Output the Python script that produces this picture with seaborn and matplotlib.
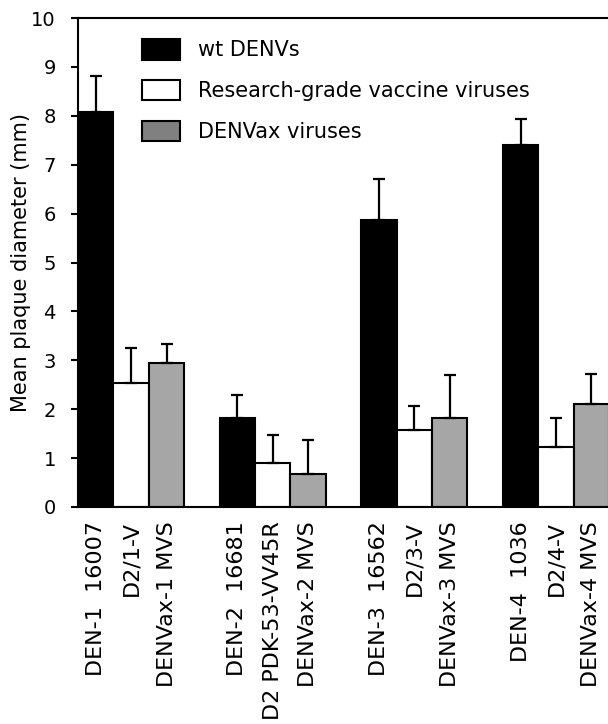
import numpy as np
import pandas as pd
import matplotlib
matplotlib.use('Agg')
import matplotlib.pyplot as plt
from matplotlib.patches import Patch
import seaborn as sns

# data
groups = ['DEN-1', 'DEN-2', 'DEN-3', 'DEN-4']
kinds = ['wt DENVs', 'Research-grade vaccine viruses', 'DENVax viruses']
labels = ['DEN-1  16007', 'D2/1-V', 'DENVax-1 MVS',
          'DEN-2  16681', 'D2 PDK-53-VV45R', 'DENVax-2 MVS',
          'DEN-3  16562', 'D2/3-V', 'DENVax-3 MVS',
          'DEN-4  1036', 'D2/4-V', 'DENVax-4 MVS']
means = [8.08, 2.54, 2.94,
         1.81, 0.90, 0.67,
         5.87, 1.57, 1.83,
         7.40, 1.23, 2.11]
errs = [0.73, 0.71, 0.39,
        0.48, 0.57, 0.69,
        0.84, 0.50, 0.86,
        0.53, 0.58, 0.62]

# one empty slot between groups
pos = [4 * g + k for g in range(len(groups)) for k in range(len(kinds))]
df = pd.DataFrame({
    'pos': pos,
    'value': means,
    'kind': [kinds[k] for g in range(len(groups)) for k in range(len(kinds))],
})

bar_colors = {kinds[0]: 'black', kinds[1]: 'white', kinds[2]: '#a6a6a6'}

sns.set_style('white')
plt.rcParams['font.family'] = ['DejaVu Sans']
plt.rcParams['text.color'] = 'black'
plt.rcParams['axes.labelcolor'] = 'black'
plt.rcParams['xtick.color'] = 'black'
plt.rcParams['ytick.color'] = 'black'

fig = plt.figure(figsize=(6.08, 7.24), dpi=100)
ax = fig.add_axes([78 / 608, 1 - 507 / 724, 530 / 608, 489 / 724])

sns.barplot(data=df, x='pos', y='value', hue='kind', palette=bar_colors,
            dodge=False, native_scale=True, width=1, edgecolor='black',
            linewidth=1.5, errorbar=None, legend=False, ax=ax)

# one-sided error bars (upper only)
ax.errorbar(pos, means, yerr=[np.zeros(len(errs)), errs], fmt='none',
            ecolor='black', elinewidth=1.6, capsize=4.6, capthick=1.6, zorder=5)

ax.set_xlim(-0.5, 14.47)
ax.set_ylim(0, 10)
ax.set_yticks(range(0, 11))
ax.set_xticks(pos)
ax.set_xticklabels(labels, rotation=90, fontsize=16, va='top', ha='center')
ax.tick_params(axis='x', length=0, pad=10)
ax.tick_params(axis='y', length=5, width=1.5, direction='out', pad=11,
               labelsize=14, left=True)
ax.set_xlabel('')
ax.set_ylabel('Mean plaque diameter (mm)', fontsize=15, labelpad=0)

for side in ['left', 'bottom', 'top']:
    ax.spines[side].set_visible(True)
    ax.spines[side].set_linewidth(1.5)
    ax.spines[side].set_color('black')
ax.spines['right'].set_visible(False)

handles = [Patch(facecolor='black', edgecolor='black', linewidth=1.5),
           Patch(facecolor='white', edgecolor='black', linewidth=1.5),
           Patch(facecolor='#808080', edgecolor='black', linewidth=1.5)]
ax.legend(handles, kinds, loc='upper left',
          bbox_to_anchor=((142 - 78) / 530, (507 - 39) / 489),
          frameon=False, fontsize=15, borderpad=0, borderaxespad=0,
          handlelength=1.83, handleheight=1.15, handletextpad=0.87,
          labelspacing=0.93)

fig.savefig('out.png', dpi=100)
